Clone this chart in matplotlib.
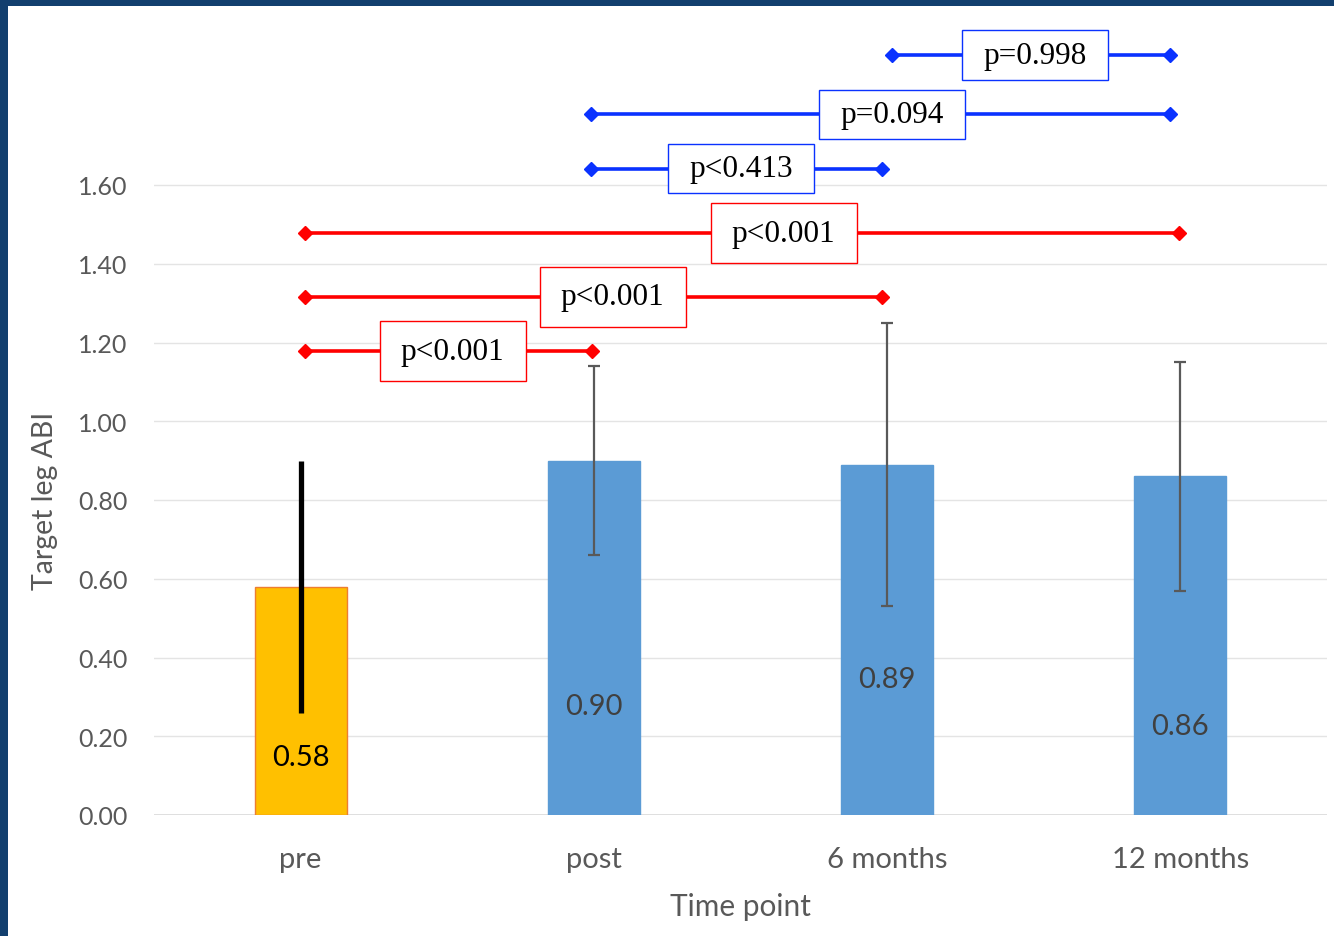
import matplotlib
matplotlib.use("Agg")
import matplotlib.pyplot as plt
from matplotlib.patches import Rectangle

# ABI per time point (mean, SD)
categories = ["pre", "post", "6 months", "12 months"]
abi_mean = [0.58, 0.90, 0.89, 0.86]
abi_sd = [0.32, 0.24, 0.36, 0.29]

# pairwise comparisons: (from, to, label)
comp_from = [0, 0, 0, 1, 1, 2]
comp_to = [1, 2, 3, 2, 3, 3]
comp_text = ["p<0.001", "p<0.001", "p<0.001", "p<0.413", "p=0.094", "p=0.998"]

GRID = "#E4E4E4"
TXT = "#595959"
RED = "#FF0000"
BLUE = "#0A32FF"

plt.rcParams["font.family"] = ["Lato", "DejaVu Sans"]

fig = plt.figure(figsize=(13.34, 9.37), dpi=100)
fig.patch.set_facecolor("#123F6E")
# white slide panel
fig.patches.append(Rectangle((8 / 1334, 0), 1, 1 - 7 / 937, transform=fig.transFigure,
                             facecolor="white", edgecolor="none", zorder=-1))

ax = fig.add_axes([154 / 1334, 121 / 937, 1173 / 1334, 796 / 937])
ax.set_facecolor("none")
ax.set_xlim(-0.5, 3.5)
ymax = 796 / 393.75
ax.set_ylim(0, ymax)

x = range(len(categories))
colors = ["#FFC000", "#5B9BD5", "#5B9BD5", "#5B9BD5"]
edges = ["#ED7D31", "#5B9BD5", "#5B9BD5", "#5B9BD5"]
ax.bar(x, abi_mean, width=0.314, color=colors, edgecolor=edges, linewidth=1, zorder=2)

# error bars: black and heavy for baseline, thin grey for follow-ups
ax.errorbar([0], abi_mean[:1], yerr=abi_sd[:1], fmt="none", ecolor="black",
            elinewidth=3.8, capsize=0, zorder=3)
ax.errorbar(list(x)[1:], abi_mean[1:], yerr=abi_sd[1:], fmt="none", ecolor="#595959",
            elinewidth=1.6, capsize=4, capthick=1.6, zorder=3)

# value labels inside bars
label_y = [0.147, 0.277, 0.345, 0.226]
for i, (m, ly) in enumerate(zip(abi_mean, label_y)):
    ax.text(i, ly, f"{m:.2f}", ha="center", va="center", fontsize=21,
            color="black" if i == 0 else "#404040", zorder=4)

# significance brackets, lines slightly trimmed at the ends
bracket_y = [1.178, 1.316, 1.478, 1.641, 1.78, 1.93]
start_nudge = [0.014, 0.014, 0.014, -0.011, -0.011, 0.015]
end_nudge = [-0.008, -0.016, -0.003, -0.016, -0.034, -0.034]
box_x = [0.518, 1.064, 1.647, 1.503, 2.018, 2.503]
for k in range(len(comp_text)):
    c = RED if k < 3 else BLUE
    h = 0.152 if k < 3 else 0.125
    y = bracket_y[k]
    x0 = comp_from[k] + start_nudge[k]
    x1 = comp_to[k] + end_nudge[k]
    ax.plot([x0, x1], [y, y], color=c, lw=2.6, marker="D",
            markersize=7, zorder=5, clip_on=False)
    ax.add_patch(Rectangle((box_x[k] - 0.249, y - h / 2), 0.498, h, facecolor="white",
                           edgecolor=c, linewidth=1, zorder=6, clip_on=False))
    ax.text(box_x[k], y, comp_text[k], ha="center", va="center",
            family="Liberation Serif", fontsize=22.5, color="black", zorder=7)

yt = [0.2 * i for i in range(9)]
ax.set_yticks(yt)
ax.set_yticklabels([f"{v:.2f}" for v in yt])
ax.set_xticks(list(x))
ax.set_xticklabels(categories)
ax.tick_params(axis="both", length=0, colors=TXT)
ax.tick_params(axis="y", pad=19, labelsize=18)
ax.tick_params(axis="x", pad=22, labelsize=21)
ax.grid(axis="y", color=GRID, lw=1, zorder=0)
for s in ax.spines.values():
    s.set_visible(False)
ax.axhline(0, color="#D9D9D9", lw=1.2, zorder=1)

ax.set_ylabel("Target leg ABI", fontsize=20.5, color=TXT)
ax.yaxis.set_label_coords((45 - 154) / 1173, 0.8 / ymax)
ax.yaxis.label.set_verticalalignment("center")
ax.set_xlabel("Time point", fontsize=21.5, color=TXT, labelpad=15)

fig.savefig("out.png", dpi=100, facecolor=fig.get_facecolor())
